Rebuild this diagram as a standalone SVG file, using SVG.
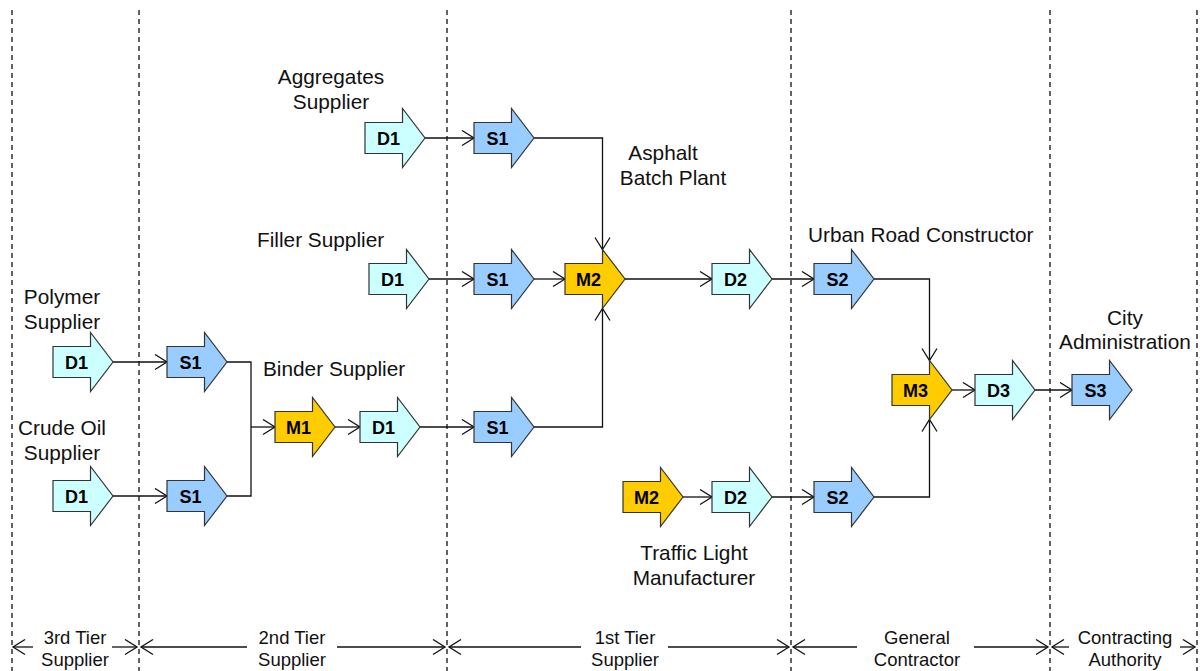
<svg xmlns="http://www.w3.org/2000/svg" xmlns:xlink="http://www.w3.org/1999/xlink" width="1203" height="671" viewBox="0 0 1203 671">
<style>
.d{fill:#CCFFFF;stroke:#333;stroke-width:1.2}
.s{fill:#99CCFF;stroke:#333;stroke-width:1.2}
.m{fill:#FFCC00;stroke:#333;stroke-width:1.2}
.nt{font-family:"Liberation Sans",Arial,sans-serif;font-size:18px;font-weight:bold;fill:#000;text-anchor:middle}
.lb{font-family:"Liberation Sans",Arial,sans-serif;font-size:20.8px;fill:#111}
.tb{font-family:"Liberation Sans",Arial,sans-serif;font-size:18.5px;fill:#111;text-anchor:middle}
.c{fill:none;stroke:#111;stroke-width:1.3}
.dash{stroke:#222;stroke-width:1.4;stroke-dasharray:5 4;fill:none}
</style>
<defs>
<path id="arr" d="M0,-15.5 H37.5 V-29.5 L60,0 L37.5,29.5 V15.5 H0 Z"/>
<marker id="oa" markerUnits="userSpaceOnUse" markerWidth="15" markerHeight="17" viewBox="0 0 15 17" refX="13" refY="8.5" orient="auto">
<path d="M1,1 L13,8.5 L1,16" fill="none" stroke="#111" stroke-width="1.3"/>
</marker>
</defs>
<rect width="1203" height="671" fill="#fff"/>

<g id="tiers">
<line class="dash" x1="12" y1="10" x2="12" y2="671"/>
<line class="dash" x1="139" y1="10" x2="139" y2="671"/>
<line class="dash" x1="447" y1="10" x2="447" y2="671"/>
<line class="dash" x1="791" y1="10" x2="791" y2="671"/>
<line class="dash" x1="1050" y1="10" x2="1050" y2="671"/>
<line class="dash" x1="1197" y1="10" x2="1197" y2="671"/>
<g class="c" marker-end="url(#oa)">
<line x1="33" y1="647" x2="13" y2="647"/>
<line x1="112" y1="647" x2="137" y2="647"/>
<line x1="247" y1="647" x2="141" y2="647"/>
<line x1="337" y1="647" x2="445" y2="647"/>
<line x1="581" y1="647" x2="449" y2="647"/>
<line x1="668" y1="647" x2="789" y2="647"/>
<line x1="857" y1="647" x2="793" y2="647"/>
<line x1="974" y1="647" x2="1048" y2="647"/>
<line x1="1069" y1="647" x2="1052" y2="647"/>
<line x1="1180" y1="647" x2="1195" y2="647"/>
</g>
<text class="tb" x="75" y="644">3rd Tier</text><text class="tb" x="75" y="666">Supplier</text>
<text class="tb" x="292" y="644">2nd Tier</text><text class="tb" x="292" y="666">Supplier</text>
<text class="tb" x="625" y="644">1st Tier</text><text class="tb" x="625" y="666">Supplier</text>
<text class="tb" x="917" y="644">General</text><text class="tb" x="917" y="666">Contractor</text>
<text class="tb" x="1125" y="644">Contracting</text><text class="tb" x="1125" y="666">Authority</text>
</g>

<g id="connectors" class="c">
<g marker-end="url(#oa)">
<path d="M425,138 H474"/>
<path d="M534,138 H602.5 V249.5"/>
<path d="M429,279 H474"/>
<path d="M534,279 H565"/>
<path d="M534,427 H602.5 V308.5"/>
<path d="M625,279 H712"/>
<path d="M772,279 H814"/>
<path d="M874,279 H929.5 V360.5"/>
<path d="M874,497 H929.5 V419.5"/>
<path d="M683,497 H712"/>
<path d="M772,497 H814"/>
<path d="M951.5,390 H975"/>
<path d="M1035,390 H1072"/>
<path d="M113,362 H167"/>
<path d="M113,496 H167"/>
<path d="M251,427 H275"/>
<path d="M335,427 H360"/>
<path d="M420,427 H474"/>
</g>
<path d="M227,362 H251 V496 H227"/>
</g>

<g id="agg-d1"><use xlink:href="#arr" href="#arr" x="365" y="138" class="d"/><text class="nt" x="388.5" y="144.5">D1</text></g>
<g id="agg-s1"><use xlink:href="#arr" href="#arr" x="474" y="138" class="s"/><text class="nt" x="497.5" y="144.5">S1</text></g>
<g id="fil-d1"><use xlink:href="#arr" href="#arr" x="369" y="279" class="d"/><text class="nt" x="392.5" y="285.5">D1</text></g>
<g id="fil-s1"><use xlink:href="#arr" href="#arr" x="474" y="279" class="s"/><text class="nt" x="497.5" y="285.5">S1</text></g>
<g id="asp-m2"><use xlink:href="#arr" href="#arr" x="565" y="279" class="m"/><text class="nt" x="588.5" y="285.5">M2</text></g>
<g id="asp-d2"><use xlink:href="#arr" href="#arr" x="712" y="279" class="d"/><text class="nt" x="735.5" y="285.5">D2</text></g>
<g id="urb-s2"><use xlink:href="#arr" href="#arr" x="814" y="279" class="s"/><text class="nt" x="837.5" y="285.5">S2</text></g>
<g id="pol-d1"><use xlink:href="#arr" href="#arr" x="53" y="362" class="d"/><text class="nt" x="76.5" y="368.5">D1</text></g>
<g id="pol-s1"><use xlink:href="#arr" href="#arr" x="167" y="362" class="s"/><text class="nt" x="190.5" y="368.5">S1</text></g>
<g id="cru-d1"><use xlink:href="#arr" href="#arr" x="53" y="496" class="d"/><text class="nt" x="76.5" y="502.5">D1</text></g>
<g id="cru-s1"><use xlink:href="#arr" href="#arr" x="167" y="496" class="s"/><text class="nt" x="190.5" y="502.5">S1</text></g>
<g id="bin-m1"><use xlink:href="#arr" href="#arr" x="275" y="427" class="m"/><text class="nt" x="298.5" y="433.5">M1</text></g>
<g id="bin-d1"><use xlink:href="#arr" href="#arr" x="360" y="427" class="d"/><text class="nt" x="383.5" y="433.5">D1</text></g>
<g id="bin-s1"><use xlink:href="#arr" href="#arr" x="474" y="427" class="s"/><text class="nt" x="497.5" y="433.5">S1</text></g>
<g id="gc-m3"><use xlink:href="#arr" href="#arr" x="892" y="390" class="m"/><text class="nt" x="915.5" y="396.5">M3</text></g>
<g id="gc-d3"><use xlink:href="#arr" href="#arr" x="975" y="390" class="d"/><text class="nt" x="998.5" y="396.5">D3</text></g>
<g id="city-s3"><use xlink:href="#arr" href="#arr" x="1072" y="390" class="s"/><text class="nt" x="1095.5" y="396.5">S3</text></g>
<g id="tl-m2"><use xlink:href="#arr" href="#arr" x="623" y="497" class="m"/><text class="nt" x="646.5" y="503.5">M2</text></g>
<g id="tl-d2"><use xlink:href="#arr" href="#arr" x="712" y="497" class="d"/><text class="nt" x="735.5" y="503.5">D2</text></g>
<g id="tl-s2"><use xlink:href="#arr" href="#arr" x="814" y="497" class="s"/><text class="nt" x="837.5" y="503.5">S2</text></g>

<g id="labels">
<text class="lb" x="331" y="84" text-anchor="middle">Aggregates</text>
<text class="lb" x="331" y="109" text-anchor="middle">Supplier</text>
<text class="lb" x="663" y="160" text-anchor="middle">Asphalt</text>
<text class="lb" x="673" y="185" text-anchor="middle">Batch Plant</text>
<text class="lb" x="257" y="247">Filler Supplier</text>
<text class="lb" x="808" y="242">Urban Road Constructor</text>
<text class="lb" x="62" y="304" text-anchor="middle">Polymer</text>
<text class="lb" x="62" y="329" text-anchor="middle">Supplier</text>
<text class="lb" x="263" y="376">Binder Supplier</text>
<text class="lb" x="62" y="435" text-anchor="middle">Crude Oil</text>
<text class="lb" x="62" y="460" text-anchor="middle">Supplier</text>
<text class="lb" x="694" y="560" text-anchor="middle">Traffic Light</text>
<text class="lb" x="694" y="585" text-anchor="middle">Manufacturer</text>
<text class="lb" x="1125" y="325" text-anchor="middle">City</text>
<text class="lb" x="1125" y="349" text-anchor="middle">Administration</text>
</g>
</svg>
